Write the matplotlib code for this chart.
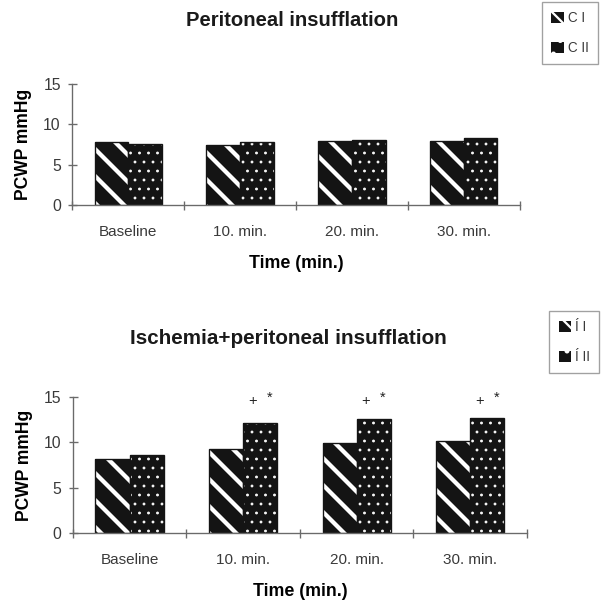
import numpy as np
import matplotlib.pyplot as plt
from matplotlib.patches import Patch

# data
times = ['Baseline', '10. min.', '20. min.', '30. min.']
insuff_c1 = [7.8, 7.5, 7.9, 8.0]
insuff_c2 = [7.6, 7.8, 8.1, 8.3]
isch_c1 = [8.2, 9.3, 9.9, 10.1]
isch_c2 = [8.6, 12.1, 12.6, 12.7]
isch_marks = [False, True, True, True]
legend_top = ['C I', 'C II']
legend_bottom = ['Í I', 'Í II']

DPI = 162  # chosen so the hatch spacing looks like the scan
plt.rcParams['font.family'] = ['Liberation Sans', 'DejaVu Sans']

BAR = '#141414'
AXC = '#6a6a6a'
TXT = '#3a3a3a'
STRIPES = '\\\\'
DOTS = '...'


def hatched_bar(ax, x, h, hatch, hlw):
    with plt.rc_context({'hatch.linewidth': hlw}):
        bars = ax.bar(x, h, width=0.3, color=BAR, edgecolor='white', hatch=hatch, linewidth=0)
    for b in bars:
        if hasattr(b, 'set_hatch_linewidth'):
            b.set_hatch_linewidth(hlw)
    ax.bar(x, h, width=0.3, fill=False, edgecolor=BAR, linewidth=0.6)


def legend_handles():
    with plt.rc_context({'hatch.linewidth': 1.2}):
        h1 = Patch(facecolor=BAR, edgecolor='white', hatch=STRIPES, linewidth=0)
    with plt.rc_context({'hatch.linewidth': 0.4}):
        h2 = Patch(facecolor=BAR, edgecolor='white', hatch='..', linewidth=0)
    return [h1, h2]


def panel(ax, c1, c2, labels, leg_anchor):
    x = np.arange(len(times))
    hatched_bar(ax, x - 0.15, c1, STRIPES, 1.9)
    hatched_bar(ax, x + 0.15, c2, DOTS, 0.45)

    ax.set_xlim(-0.5, len(times) - 0.5)
    ax.set_ylim(0, 15)
    ax.set_yticks([0, 5, 10, 15])
    ax.set_xticks(x)
    ax.set_xticklabels(times)
    ax.set_xticks(np.arange(len(times) + 1) - 0.5, minor=True)
    ax.tick_params(axis='x', which='major', length=0, pad=9, labelsize=6.8, labelcolor=TXT)
    ax.tick_params(axis='x', which='minor', length=4, direction='inout', color=AXC, width=0.6)
    ax.tick_params(axis='y', length=4, direction='inout', color=AXC, width=0.6,
                   pad=3, labelsize=7.0, labelcolor=TXT)
    for s in ['top', 'right']:
        ax.spines[s].set_visible(False)
    for s in ['left', 'bottom']:
        ax.spines[s].set_color(AXC)
        ax.spines[s].set_linewidth(0.6)

    ax.set_xlabel('Time (min.)', fontsize=7.9, fontweight='bold', labelpad=7)
    ax.set_ylabel('PCWP mmHg', fontsize=7.8, fontweight='bold', labelpad=5)

    leg = ax.legend(legend_handles(), labels, loc='upper right', bbox_to_anchor=leg_anchor,
                    bbox_transform=fig.transFigure, fontsize=6.0, frameon=True, fancybox=False,
                    handlelength=0.9, handleheight=0.9, handletextpad=0.3, labelspacing=1.15,
                    borderpad=0.7, borderaxespad=0)
    leg.get_frame().set_edgecolor('#8a8a8a')
    leg.get_frame().set_linewidth(0.6)
    for t in leg.get_texts():
        t.set_color(TXT)
    return x


fig = plt.figure(figsize=(601 / DPI, 605 / DPI), dpi=DPI)
ax1 = fig.add_axes([0.120, 0.661, 0.745, 0.200])
ax2 = fig.add_axes([0.121, 0.119, 0.756, 0.225])

panel(ax1, insuff_c1, insuff_c2, legend_top, (0.995, 0.997))
x2 = panel(ax2, isch_c1, isch_c2, legend_bottom, (0.997, 0.486))

fig.text(0.486, 1 - 20 / 605, 'Peritoneal insufflation', ha='center', va='center',
         fontsize=9.0, fontweight='bold', color='#1a1a1a')
fig.text(0.479, 1 - 339 / 605, 'Ischemia+peritoneal insufflation', ha='center', va='center',
         fontsize=9.2, fontweight='bold', color='#1a1a1a')

# significance marks above the C II bars
for xi, mark in zip(x2, isch_marks):
    if mark:
        ax2.text(xi + 0.08, 14.55, '+', ha='center', va='center', fontsize=6.5, color='#222222')
        ax2.text(xi + 0.23, 14.95, '*', ha='center', va='center', fontsize=6.5, color='#222222')

fig.savefig('out.png', dpi=DPI, facecolor='white')
